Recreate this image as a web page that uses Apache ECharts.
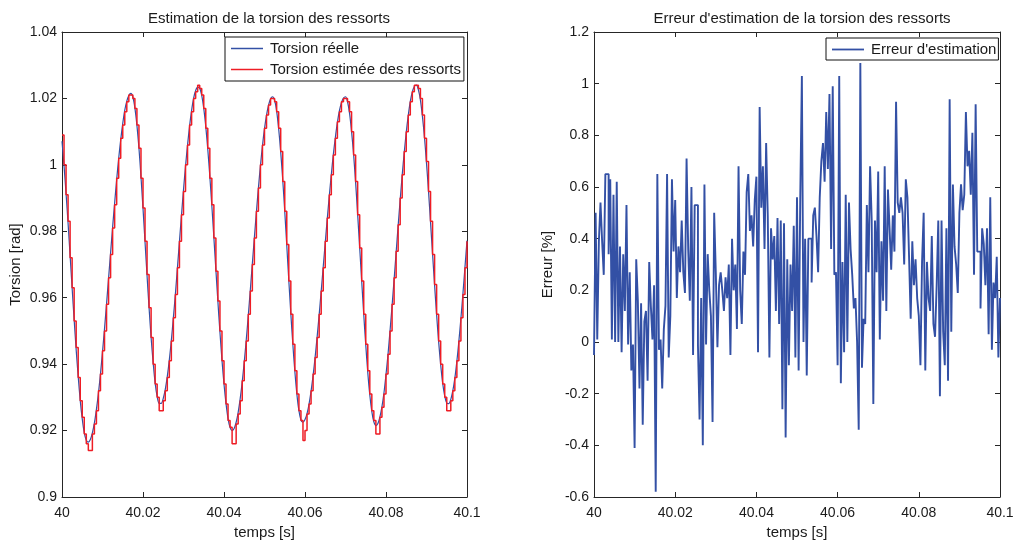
<!DOCTYPE html>
<html>
<head>
<meta charset="utf-8">
<script src="https://cdn.jsdelivr.net/npm/echarts@6/dist/echarts.min.js"></script>
<style>
html,body{margin:0;padding:0;background:#fff;}
#chart{width:1017px;height:540px;}
</style>
</head>
<body>
<div id="chart"></div>
<script>
// ---- sampling grid ----
const timeStart = 40;
const torsionStep = 0.0005;
const errorStep = 0.0004;

// ---- tick labels ----
const xTicks = [40, 40.02, 40.04, 40.06, 40.08, 40.1];
const torsionTicks = [0.9, 0.92, 0.94, 0.96, 0.98, 1, 1.02, 1.04];
const errorTicks = [-0.6, -0.4, -0.2, 0, 0.2, 0.4, 0.6, 0.8, 1, 1.2];

// ---- Torsion réelle (rad) ----
const torsionReelle = [
1.0071,0.9997,0.9914,0.9824,0.9727,0.9629,0.9534,0.9443,0.9363,0.9291,
0.9235,0.9193,0.9171,0.9165,0.9173,0.9193,0.9223,0.9264,0.9313,0.9371,
0.9437,0.9507,0.9582,0.9659,0.9736,0.9813,0.9886,0.9956,1.0020,1.0076,
1.0125,1.0165,1.0192,1.0209,1.0215,1.0204,1.0171,1.0119,1.0050,0.9964,
0.9869,0.9768,0.9666,0.9569,0.9480,0.9405,0.9343,0.9302,0.9282,0.9282,
0.9297,0.9324,0.9363,0.9413,0.9472,0.9540,0.9612,0.9690,0.9770,0.9848,
0.9925,0.9996,1.0060,1.0117,1.0164,1.0201,1.0224,1.0234,1.0231,1.0209,
1.0170,1.0115,1.0046,0.9965,0.9876,0.9781,0.9683,0.9587,0.9496,0.9412,
0.9340,0.9281,0.9236,0.9209,0.9200,0.9206,0.9225,0.9255,0.9296,0.9347,
0.9407,0.9474,0.9547,0.9624,0.9703,0.9781,0.9858,0.9931,0.9998,1.0058,
1.0109,1.0150,1.0180,1.0199,1.0205,1.0194,1.0162,1.0108,1.0039,0.9955,
0.9860,0.9757,0.9652,0.9552,0.9459,0.9377,0.9309,0.9260,0.9232,0.9225,
0.9233,0.9251,0.9280,0.9319,0.9366,0.9421,0.9483,0.9549,0.9620,0.9693,
0.9766,0.9838,0.9907,0.9971,1.0032,1.0083,1.0128,1.0163,1.0187,1.0201,
1.0205,1.0190,1.0155,1.0100,1.0031,0.9946,0.9851,0.9751,0.9650,0.9550,
0.9458,0.9375,0.9307,0.9257,0.9226,0.9215,0.9221,0.9241,0.9272,0.9314,
0.9369,0.9430,0.9501,0.9576,0.9655,0.9736,0.9817,0.9895,0.9969,1.0037,
1.0098,1.0149,1.0191,1.0220,1.0236,1.0240,1.0226,1.0195,1.0145,1.0083,
1.0005,0.9920,0.9826,0.9731,0.9637,0.9548,0.9467,0.9398,0.9342,0.9304,
0.9283,0.9281,0.9294,0.9320,0.9358,0.9409,0.9470,0.9539,0.9613,0.9692,
0.9772
];

// ---- Torsion estimée des ressorts (rad, sample & hold) ----
const torsionEstimee = [
1.009,1.000,0.991,0.983,0.972,0.963,0.953,0.945,0.936,0.929,
0.924,0.919,0.916,0.914,0.914,0.919,0.922,0.926,0.932,0.937,
0.944,0.950,0.958,0.966,0.973,0.981,0.988,0.996,1.002,1.008,
1.012,1.016,1.019,1.021,1.021,1.020,1.017,1.012,1.005,0.996,
0.987,0.977,0.967,0.957,0.948,0.940,0.934,0.930,0.926,0.926,
0.929,0.932,0.936,0.941,0.947,0.954,0.961,0.969,0.977,0.985,
0.992,1.000,1.006,1.012,1.016,1.020,1.022,1.024,1.023,1.021,
1.017,1.011,1.005,0.996,0.988,0.978,0.968,0.959,0.950,0.941,
0.934,0.928,0.923,0.921,0.916,0.916,0.922,0.925,0.929,0.935,
0.941,0.947,0.955,0.962,0.970,0.978,0.986,0.993,1.000,1.006,
1.011,1.015,1.018,1.020,1.020,1.019,1.016,1.011,1.004,0.995,
0.986,0.976,0.965,0.955,0.946,0.938,0.931,0.926,0.923,0.917,
0.920,0.925,0.928,0.932,0.937,0.942,0.948,0.955,0.962,0.969,
0.977,0.984,0.991,0.997,1.003,1.008,1.013,1.016,1.019,1.020,
1.020,1.019,1.016,1.010,1.003,0.995,0.985,0.975,0.965,0.955,
0.946,0.938,0.931,0.926,0.923,0.919,0.919,0.924,0.927,0.931,
0.937,0.943,0.950,0.958,0.966,0.974,0.982,0.990,0.997,1.004,
1.010,1.015,1.019,1.022,1.024,1.024,1.023,1.020,1.015,1.008,
1.001,0.992,0.983,0.973,0.964,0.955,0.947,0.940,0.934,0.930,
0.926,0.926,0.929,0.932,0.936,0.941,0.947,0.954,0.961,0.969,
0.977
];

// ---- Erreur d'estimation (%) ----
const erreurEstimation = [
// 40.000 - 40.025
-0.05,0.50,0.01,0.39,0.54,0.39,0.26,0.65,0.65,0.34,0.63,0.01,0.57,0.00,0.62,0.00,
0.37,-0.04,0.34,0.12,0.53,-0.01,0.27,-0.11,-0.01,-0.41,0.32,0.16,-0.18,0.15,-0.32,0.08,
0.12,-0.15,0.31,0.14,0.01,0.22,-0.58,0.65,-0.03,0.01,-0.18,0.05,0.14,0.65,-0.06,0.10,
0.63,0.35,0.55,0.17,0.37,0.27,0.47,0.27,0.19,0.71,0.36,0.16,0.60,-0.05,0.53,
// 40.025 - 40.050
0.53,-0.01,-0.30,0.17,-0.40,0.61,-0.01,0.34,0.20,0.10,-0.31,0.50,0.27,-0.02,0.22,0.27,
0.20,0.12,0.25,0.17,0.30,-0.05,0.40,0.20,0.30,0.05,0.68,0.20,0.07,0.35,0.26,0.58,
0.65,0.43,0.49,0.37,0.55,0.64,-0.04,0.91,0.52,0.68,0.36,0.77,0.49,-0.06,0.44,0.32,
0.41,0.12,0.48,0.07,0.47,-0.26,0.46,-0.37,0.32,-0.09,0.30,0.12,0.45,-0.06,0.56,
// 40.050 - 40.075
-0.11,0.56,1.03,0.00,0.40,-0.13,0.40,0.40,0.23,0.49,0.52,0.41,0.27,0.56,0.70,0.77,
0.62,0.89,0.67,0.96,0.36,0.99,0.26,0.27,-0.09,1.03,-0.16,0.31,-0.04,0.57,0.00,0.54,
0.36,0.26,0.13,0.17,0.00,-0.34,1.08,-0.10,0.09,0.07,0.53,0.27,0.68,0.47,-0.24,0.47,
0.27,0.66,0.01,0.39,0.16,0.68,0.12,0.59,0.44,0.28,0.49,0.35,0.93,0.54,0.50,
// 40.075 - 40.100
0.56,0.50,0.30,0.63,0.56,0.33,0.09,0.39,0.22,0.32,0.17,0.10,-0.09,0.31,0.50,-0.11,
0.31,0.17,0.12,0.41,0.07,0.02,0.22,0.47,-0.21,0.47,0.04,-0.09,0.44,-0.15,0.94,0.04,
0.61,0.37,0.30,0.19,0.50,0.61,0.51,0.57,0.89,0.68,0.74,0.57,0.81,0.26,0.92,0.35,
0.35,0.13,0.44,0.38,0.22,0.44,0.03,0.56,-0.03,0.23,0.17,0.33,-0.06,0.17
];

function pairs(vals, step) {
  return vals.map((v, i) => [timeStart + i * step, v]);
}
function fmt(v) { return String(+v.toFixed(2)); }

const FONT = 'Liberation Sans';
const AXC = '#262626';
const tickLab = { color: '#1a1a1a', fontFamily: FONT, fontSize: 14 };
const txt = { color: '#1a1a1a', fontFamily: FONT, fontSize: 15 };

function xAxisDef(grid, pos, show) {
  return {
    type: 'value', gridIndex: grid, position: pos,
    min: 40, max: 40.1, interval: 0.02,
    axisLine: { show: true, onZero: false, lineStyle: { color: AXC, width: 1 } },
    axisTick: { show: true, inside: true, length: 5, lineStyle: { color: AXC } },
    axisLabel: show ? Object.assign({ formatter: fmt, margin: 9 }, tickLab) : { show: false },
    splitLine: { show: false },
    name: show ? 'temps [s]' : '',
    nameLocation: 'middle', nameGap: 24,
    nameTextStyle: txt
  };
}
function yAxisDef(grid, pos, show, min, max, interval, name, gap) {
  return {
    type: 'value', gridIndex: grid, position: pos,
    min: min, max: max, interval: interval,
    axisLine: { show: true, onZero: false, lineStyle: { color: AXC, width: 1 } },
    axisTick: { show: true, inside: true, length: 5, lineStyle: { color: AXC } },
    axisLabel: show ? Object.assign({ formatter: fmt, margin: 5 }, tickLab) : { show: false },
    splitLine: { show: false },
    name: show ? name : '',
    nameLocation: 'middle', nameGap: gap,
    nameTextStyle: txt
  };
}

const chart = echarts.init(document.getElementById('chart'), null, { renderer: 'canvas' });
chart.setOption({
  backgroundColor: '#ffffff',
  animation: false,
  title: [
    { text: 'Estimation de la torsion des ressorts', left: 264, top: 6, textAlign: 'center',
      textStyle: Object.assign({ fontWeight: 'normal' }, txt) },
    { text: "Erreur d'estimation de la torsion des ressorts", left: 797, top: 6, textAlign: 'center',
      textStyle: Object.assign({ fontWeight: 'normal' }, txt) }
  ],
  grid: [
    { left: 62, top: 32, width: 405, height: 465, outerBoundsMode: 'none', containLabel: false },
    { left: 594, top: 32, width: 406, height: 465, outerBoundsMode: 'none', containLabel: false }
  ],
  xAxis: [
    xAxisDef(0, 'bottom', true), xAxisDef(0, 'top', false),
    xAxisDef(1, 'bottom', true), xAxisDef(1, 'top', false)
  ],
  yAxis: [
    yAxisDef(0, 'left', true, 0.9, 1.04, 0.02, 'Torsion [rad]', 39),
    yAxisDef(0, 'right', false, 0.9, 1.04, 0.02, '', 0),
    yAxisDef(1, 'left', true, -0.6, 1.2, 0.2, 'Erreur [%]', 39),
    yAxisDef(1, 'right', false, -0.6, 1.2, 0.2, '', 0)
  ],
  legend: [
    { data: ['Torsion réelle', 'Torsion estimée des ressorts'],
      left: 225, top: 37, orient: 'vertical', icon: 'rect', itemWidth: 32, itemHeight: 1.5, itemGap: 6,
      padding: [4, 3, 4, 6], borderColor: '#111', borderWidth: 1, backgroundColor: '#fff',
      textStyle: Object.assign({ padding: [0, 0, 0, 2] }, txt) },
    { data: ["Erreur d'estimation"],
      left: 826, top: 38, orient: 'vertical', icon: 'rect', itemWidth: 32, itemHeight: 1.8,
      padding: [4, 2, 3, 6], borderColor: '#111', borderWidth: 1, backgroundColor: '#fff',
      textStyle: Object.assign({ padding: [0, 0, 0, 2] }, txt) }
  ],
  series: [
    { name: 'Torsion réelle', type: 'line', xAxisIndex: 0, yAxisIndex: 0,
      data: pairs(torsionReelle, torsionStep), symbol: 'none', smooth: 0.3,
      lineStyle: { color: '#3350a5', width: 1.2 }, itemStyle: { color: '#3350a5' } },
    { name: 'Torsion estimée des ressorts', type: 'line', xAxisIndex: 0, yAxisIndex: 0,
      data: pairs(torsionEstimee, torsionStep), symbol: 'none', step: 'end',
      lineStyle: { color: '#ee1d25', width: 1.5 }, itemStyle: { color: '#ee1d25' } },
    { name: "Erreur d'estimation", type: 'line', xAxisIndex: 2, yAxisIndex: 2,
      data: pairs(erreurEstimation, errorStep), symbol: 'none', step: 'end',
      lineStyle: { color: '#3350a5', width: 1.9 }, itemStyle: { color: '#3350a5' } }
  ]
});
</script>
</body>
</html>
